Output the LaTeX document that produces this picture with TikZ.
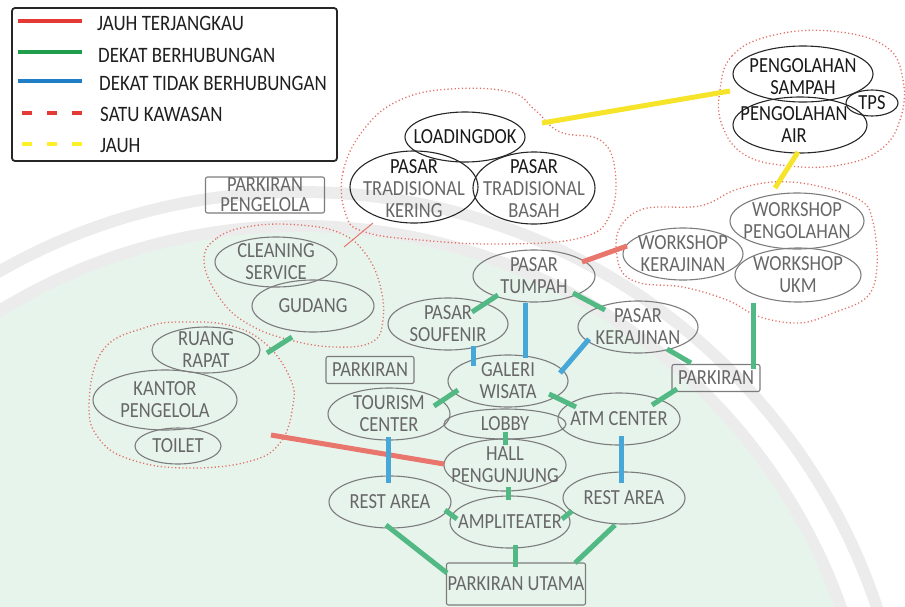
\documentclass[tikz,border=0pt]{standalone}
\usepackage{fontspec}
\setmainfont{Carlito}[FakeStretch=0.86]
\usetikzlibrary{shapes.geometric}
\definecolor{tg}{HTML}{676767}
\definecolor{og}{HTML}{7C7C7C}
\definecolor{cgreen}{HTML}{52B985}
\definecolor{cblue}{HTML}{47A7D6}
\definecolor{cred}{HTML}{E8766C}
\definecolor{cyellow}{HTML}{F6E42A}
\definecolor{lred}{HTML}{E53935}
\definecolor{lgreen}{HTML}{1E9E4B}
\definecolor{lblue}{HTML}{1F7EC6}
\definecolor{lyellow}{HTML}{FFEF2A}
\definecolor{kawc}{HTML}{E07268}
\definecolor{wmgreen}{HTML}{E7F4EC}
\definecolor{wmgrey}{HTML}{ECECEC}
\begin{document}
\begin{tikzpicture}[x=1pt,y=-1pt,
  ell/.style 2 args={ellipse, draw=og, line width=1.1pt, minimum width=#1pt, minimum height=#2pt, inner sep=0pt},
  ellk/.style 2 args={ellipse, draw=black!85, line width=1.1pt, minimum width=#1pt, minimum height=#2pt, inner sep=0pt},
  txt/.style={text=tg, align=center, inner sep=0pt, font=\fontsize{21.5}{22}\selectfont},
  txtk/.style={txt, text=black!90},
  boxn/.style 2 args={rectangle, rounded corners=2pt, draw=og, line width=1.1pt, minimum width=#1pt, minimum height=#2pt, inner sep=0pt, text=tg, align=center, font=\fontsize{21.5}{20}\selectfont},
  gcon/.style={draw=cgreen, line width=5pt},
  bcon/.style={draw=cblue, line width=5pt},
  rcon/.style={draw=cred, line width=5pt},
  ycon/.style={draw=cyellow, line width=5pt},
  kaw/.style={draw=kawc, line width=1.3pt, dash pattern=on 1.2pt off 2.4pt},
  legtxt/.style={anchor=west, inner sep=0pt, text=black!88, font=\fontsize{22}{24}\selectfont}
]
\useasboundingbox (0,0) rectangle (905,606);
% watermark background
\begin{scope}
\clip (0,0) rectangle (905,606);
\fill[wmgrey] (300,800) circle (614);
\fill[white] (300,800) circle (602);
\fill[wmgrey] (300,800) circle (580);
\fill[wmgreen] (300,800) circle (568);
\end{scope}

% legend
\draw[black!85, line width=1.8pt, rounded corners=3pt] (12,8) rectangle (337,161);
\draw[lred, line width=4.5pt] (18,21) -- (82,21);
\draw[lgreen, line width=4.5pt] (18,52) -- (82,52);
\draw[lblue, line width=4.5pt] (18,81) -- (82,81);
\draw[lred, line width=4.5pt, dash pattern=on 10pt off 15pt] (22,113) -- (82,113);
\draw[lyellow, line width=4.5pt, dash pattern=on 10pt off 15pt] (22,144) -- (82,144);
\node[legtxt] (l1) at (97,23) {JAUH TERJANGKAU};
\node[legtxt] (l2) at (98,55) {DEKAT BERHUBUNGAN};
\node[legtxt] (l3) at (99,83) {DEKAT TIDAK BERHUBUNGAN};
\node[legtxt] (l4) at (100,114) {SATU KAWASAN};
\node[legtxt] (l5) at (100,146) {JAUH};

% kawasan boundaries
\draw[kaw] plot[smooth cycle, tension=0.7] coordinates {(346,215) (343,172) (365,128) (400,100) (450,89) (510,92) (535,110) (560,132) (600,140) (615,170) (610,215) (580,238) (500,244) (420,240) (365,232)};
\draw[kaw] plot[smooth cycle, tension=0.7] coordinates {(720,90) (732,56) (770,36) (830,31) (885,46) (903,80) (900,120) (880,150) (840,165) (790,166) (745,155) (722,125)};
\draw[kaw] plot[smooth cycle, tension=0.6] coordinates {(618,232) (643,209) (700,206) (735,190) (773,182) (813,185) (860,200) (873,222) (877,267) (867,297) (833,313) (800,323) (760,317) (727,300) (683,287) (640,283) (620,268)};
\draw[kaw] plot[smooth cycle, tension=0.7] coordinates {(204,262) (217,238) (252,226) (300,225) (340,233) (365,253) (380,285) (383,320) (372,342) (335,347) (290,340) (250,325) (221,300)};
\draw[kaw] plot[smooth cycle, tension=0.7] coordinates {(89,405) (103,350) (147,327) (185,322) (232,326) (267,345) (290,378) (293,405) (280,443) (247,462) (185,468) (132,460) (100,440)};

% pasar tradisional cluster
\node[ellk={120}{50}] (loading) at (465,137) {};
\node[txtk] (loadingT) at (loading) {LOADINGDOK};
\node[ellk={128}{72}] (kering) at (414,187) {};
\node[txt] (keringT) at (414,189) {{\color{black!90}PASAR}\\TRADISIONAL\\KERING};
\node[ellk={122}{72}] (basah) at (534,188) {};
\node[txt] (basahT) at (534,189) {{\color{black!90}PASAR}\\TRADISIONAL\\BASAH};

% pengolahan cluster
\node[ellk={140}{56}] (sampah) at (803,74) {};
\node[txtk] (sampahT) at (803,77) {PENGOLAHAN\\SAMPAH};
\node[ellk={134}{56}] (air) at (800,125) {};
\node[txtk] (airT) at (794,125) {PENGOLAHAN\\AIR};
\node[ellk={52}{26}] (tps) at (872,103) {};
\node[txtk] (tpsT) at (tps) {TPS};

% workshop cluster
\node[ell={134}{56}] (wpeng) at (797,221) {};
\node[txt] (wpengT) at (wpeng) {WORKSHOP\\PENGOLAHAN};
\node[ell={120}{52}] (wker) at (683,254) {};
\node[txt] (wkerT) at (wker) {WORKSHOP\\KERAJINAN};
\node[ell={126}{54}] (wukm) at (798,275) {};
\node[txt] (wukmT) at (wukm) {WORKSHOP\\UKM};

% central nodes
\node[ell={122}{52}] (tumpah) at (534,276) {};
\node[txt] (tumpahT) at (tumpah) {PASAR\\TUMPAH};
\node[ell={120}{52}] (souf) at (448,324) {};
\node[txt] (soufT) at (souf) {PASAR\\SOUFENIR};
\node[ell={120}{52}] (pker) at (638,327) {};
\node[txt] (pkerT) at (pker) {PASAR\\KERAJINAN};
\node[boxn={88}{27}] (parkR) at (716,378) {PARKIRAN};
\node[boxn={88}{27}] (parkL) at (370,370) {PARKIRAN};
\node[ell={120}{52}] (galeri) at (508,381) {};
\node[txt] (galeriT) at (galeri) {GALERI\\WISATA};
\node[ell={122}{52}] (tourism) at (389,414) {};
\node[txt] (tourismT) at (tourism) {TOURISM\\CENTER};
\node[ell={122}{30}] (lobby) at (505,424) {};
\node[txt] (lobbyT) at (lobby) {LOBBY};
\node[ell={122}{52}] (atm) at (619,419) {};
\node[txt] (atmT) at (atm) {ATM CENTER};
\node[ell={122}{52}] (hall) at (505,465) {};
\node[txt] (hallT) at (hall) {HALL\\PENGUNJUNG};
\node[ell={122}{52}] (restL) at (390,502) {};
\node[txt] (restLT) at (restL) {REST AREA};
\node[ell={122}{52}] (restR) at (624,498) {};
\node[txt] (restRT) at (restR) {REST AREA};
\node[ell={120}{52}] (amp) at (510,522) {};
\node[txt] (ampT) at (amp) {AMPLITEATER};
\node[boxn={139}{42}] (utama) at (516,584) {PARKIRAN UTAMA};

% left clusters
\node[boxn={119}{36}] (parkpeng) at (265,195) {PARKIRAN\\PENGELOLA};
\node[ell={122}{50}] (cleaning) at (276,262) {};
\node[txt] (cleaningT) at (cleaning) {CLEANING\\SERVICE};
\node[ell={122}{52}] (gudang) at (313,306) {};
\node[txt] (gudangT) at (gudang) {GUDANG};
\node[ell={108}{46}] (ruang) at (206,350) {};
\node[txt] (ruangT) at (ruang) {RUANG\\RAPAT};
\node[ell={144}{60}] (kantor) at (165,400) {};
\node[txt] (kantorT) at (kantor) {KANTOR\\PENGELOLA};
\node[ell={86}{36}] (toilet) at (178,446) {};
\node[txt] (toiletT) at (toilet) {TOILET};

% connectors
\draw[ycon] ([shift={(77,-14)}]loading.center) -- ([shift={(-73,17)}]sampah.center);
\draw[ycon] ([shift={(-2,27)}]air.center) -- ([shift={(-22,-33)}]wpeng.center);
\draw[rcon] ([shift={(48,-14)}]tumpah.center) -- ([shift={(-56,-8)}]wker.center);
\draw[gcon] ([shift={(-36,19)}]tumpah.center) -- ([shift={(24,-12)}]souf.center);
\draw[bcon] ([shift={(-9,27)}]tumpah.center) -- ([shift={(17,-23)}]galeri.center);
\draw[gcon] ([shift={(39,17)}]tumpah.center) -- ([shift={(-33,-17)}]pker.center);
\draw[bcon] ([shift={(25,22)}]souf.center) -- ([shift={(-35,-15)}]galeri.center);
\draw[bcon] ([shift={(-49,12)}]pker.center) -- ([shift={(52,-8)}]galeri.center);
\draw[gcon] ([shift={(29,22)}]pker.center) -- ([shift={(-25,-15)}]parkR.center);
\draw[gcon] ([shift={(-45,28)}]wukm.center) -- ([shift={(37,-9)}]parkR.center);
\draw[gcon] ([shift={(-39,11)}]parkR.center) -- ([shift={(33,-14)}]atm.center);
\draw[gcon] ([shift={(-50,9)}]galeri.center) -- ([shift={(45,-8)}]tourism.center);
\draw[gcon] ([shift={(41,13)}]galeri.center) -- ([shift={(-43,-12)}]atm.center);
\draw[gcon] ([shift={(0,8)}]lobby.center) -- ([shift={(0,-20)}]hall.center);
\draw[rcon] ([shift={(93,-11)}]toilet.center) -- ([shift={(-61,-1)}]hall.center);
\draw[bcon] ([shift={(-1,23)}]tourism.center) -- ([shift={(-2,-19)}]restL.center);
\draw[bcon] ([shift={(2,17)}]atm.center) -- ([shift={(-3,-15)}]restR.center);
\draw[gcon] ([shift={(3,22)}]hall.center) -- ([shift={(-2,-22)}]amp.center);
\draw[gcon] ([shift={(55,8)}]restL.center) -- ([shift={(-53,-3)}]amp.center);
\draw[gcon] ([shift={(-52,13)}]restR.center) -- ([shift={(52,-3)}]amp.center);
\draw[gcon] ([shift={(5,23)}]amp.center) -- ([shift={(-1,-17)}]utama.center);
\draw[gcon] ([shift={(-4,23)}]restL.center) -- ([shift={(-69,-11)}]utama.center);
\draw[gcon] ([shift={(-9,27)}]restR.center) -- ([shift={(59,-21)}]utama.center);
\draw[gcon] ([shift={(61,3)}]ruang.center) -- ([shift={(-21,31)}]gudang.center);
\draw[draw=cred, line width=1pt] ([shift={(68,-15)}]cleaning.center) -- ([shift={(-41,36)}]kering.center);
\end{tikzpicture}
\end{document}
